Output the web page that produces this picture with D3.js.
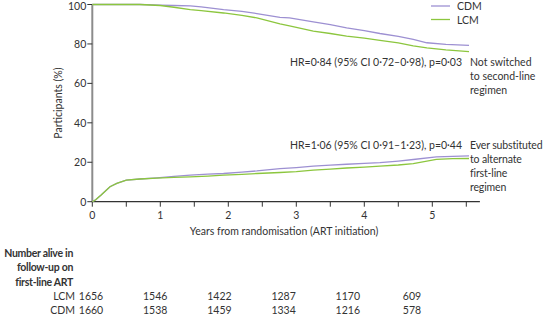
<!DOCTYPE html>
<html>
<head>
<meta charset="utf-8">
<script src="https://cdn.jsdelivr.net/npm/d3@7"></script>
<style>
  body { margin: 0; background: #fff; }
  text { font-family: Lato, "Open Sans", sans-serif; fill: #333; font-size: 10.5px; }
</style>
</head>
<body>
<div id="chart"></div>
<script>
// chart data
var upperYears = [0, 0.5, 0.7, 1.0, 1.2, 1.44, 1.6, 1.93, 2.2, 2.42, 2.76, 2.9, 3.25, 3.5, 3.74, 4.0, 4.23, 4.5, 4.72, 4.92, 5.2, 5.54];
var cdmNotSwitched = [100, 100, 100, 99.7, 99.5, 99.3, 98.8, 97.4, 96.5, 95.4, 93.5, 93.2, 91.2, 89.8, 88.2, 86.8, 85.3, 83.8, 82.3, 80.6, 79.8, 79.3];
var lcmNotSwitched = [100, 100, 100, 99.5, 98.6, 97.4, 96.9, 95.7, 94.5, 93.2, 90.2, 89.2, 86.5, 85.3, 84, 82.9, 81.8, 80.5, 79, 78, 77, 76.1];

var lowerYears = [0, 0.05, 0.13, 0.26, 0.36, 0.5, 0.7, 0.95, 1.2, 1.44, 1.7, 1.93, 2.2, 2.42, 2.76, 3.0, 3.25, 3.5, 3.74, 4.0, 4.23, 4.5, 4.72, 5.06, 5.3, 5.54];
var cdmSubstituted = [0, 1, 3.4, 7.6, 9.3, 10.9, 11.5, 12.1, 12.8, 13.5, 14, 14.3, 15, 15.6, 16.8, 17.3, 18, 18.5, 19, 19.4, 19.8, 20.6, 21.4, 22.7, 23, 23.2];
var lcmSubstituted = [0, 1, 3.4, 7.6, 9.3, 10.9, 11.5, 12.0, 12.3, 12.6, 13, 13.5, 13.9, 14.3, 14.8, 15.2, 16, 16.5, 17.1, 17.5, 18, 18.6, 19.3, 21.5, 21.8, 21.9];

var xTicks = [0, 1, 2, 3, 4, 5];
var xMinorTicks = [0.5, 1.5, 2.5, 3.5, 4.5, 5.5];
var yTicks = [0, 20, 40, 60, 80, 100];

var tableYears = [0, 1, 2, 3, 4, 5];
var lcmAtRisk = [1656, 1546, 1422, 1287, 1170, 609];
var cdmAtRisk = [1660, 1538, 1459, 1334, 1216, 578];

var notSwitchedLabel = ["Not switched", "to second-line", "regimen"];
var substitutedLabel = ["Ever substituted", "to alternate", "first-line", "regimen"];
var tableTitle = ["Number alive in", "follow-up on", "first-line ART"];

var cdmColor = "#9d90d2";
var lcmColor = "#8cc63e";

var svgWidth = 545;
var svgHeight = 315;

var svg = d3.select("#chart")
  .append("svg")
  .attr("width", svgWidth)
  .attr("height", svgHeight);

var x = d3.scaleLinear().domain([0, 5]).range([92.3, 432.3]);
var y = d3.scaleLinear().domain([0, 100]).range([201.7, 4.5]);

// axes
svg.append("line")
  .attr("x1", x(0)).attr("x2", x(5.7))
  .attr("y1", y(0)).attr("y2", y(0))
  .attr("stroke", "#333").attr("stroke-width", 1.2);

svg.append("line")
  .attr("x1", x(0)).attr("x2", x(0))
  .attr("y1", y(0) + 0.5).attr("y2", y(100))
  .attr("stroke", "#8c8c8c").attr("stroke-width", 2);

svg.selectAll(".xtick")
  .data(xTicks.concat(xMinorTicks))
  .enter().append("line")
  .attr("x1", d => x(d)).attr("x2", d => x(d))
  .attr("y1", y(0)).attr("y2", y(0) + 5)
  .attr("stroke", "#333").attr("stroke-width", 1);

svg.selectAll(".xlab")
  .data(xTicks)
  .enter().append("text")
  .attr("x", d => x(d))
  .attr("y", y(0) + 17)
  .attr("text-anchor", "middle")
  .text(d => d);

svg.selectAll(".ytick")
  .data(yTicks)
  .enter().append("line")
  .attr("x1", x(0) - 5).attr("x2", x(0))
  .attr("y1", d => y(d)).attr("y2", d => y(d))
  .attr("stroke", "#333").attr("stroke-width", 1);

// keep the top label inside the window
svg.selectAll(".ylab")
  .data(yTicks)
  .enter().append("text")
  .attr("x", x(0) - 6)
  .attr("y", d => Math.max(y(d) + 3.8, 9.5))
  .attr("text-anchor", "end")
  .text(d => d);

svg.append("text")
  .attr("transform", `translate(62, ${y(50)}) rotate(-90)`)
  .attr("text-anchor", "middle")
  .text("Participants (%)");

svg.append("text")
  .attr("x", 284)
  .attr("y", 235)
  .attr("text-anchor", "middle")
  .text("Years from randomisation (ART initiation)");

// curves
var line = d3.line()
  .x(d => x(d[0]))
  .y(d => y(d[1]));

function drawCurve(years, values, color) {
  svg.append("path")
    .datum(years.map((t, i) => [t, values[i]]))
    .attr("d", line)
    .attr("fill", "none")
    .attr("stroke", color)
    .attr("stroke-width", 1.3);
}

drawCurve(upperYears, cdmNotSwitched, cdmColor);
drawCurve(upperYears, lcmNotSwitched, lcmColor);
drawCurve(lowerYears, cdmSubstituted, cdmColor);
drawCurve(lowerYears, lcmSubstituted, lcmColor);

// legend
var legend = [["CDM", cdmColor], ["LCM", lcmColor]];
legend.forEach(function(d, i) {
  svg.append("line")
    .attr("x1", 431).attr("x2", 450)
    .attr("y1", 6 + i * 13.5).attr("y2", 6 + i * 13.5)
    .attr("stroke", d[1]).attr("stroke-width", 1.3);
  svg.append("text")
    .attr("x", 457)
    .attr("y", 10 + i * 13.5)
    .text(d[0]);
});

// annotations
svg.append("text")
  .attr("x", 462).attr("y", 66)
  .attr("text-anchor", "end")
  .text("HR=0·84 (95% CI 0·72–0·98), p=0·03");

svg.selectAll(".ns")
  .data(notSwitchedLabel)
  .enter().append("text")
  .attr("x", 470)
  .attr("y", (d, i) => 66 + i * 14)
  .text(d => d);

svg.append("text")
  .attr("x", 462).attr("y", 149)
  .attr("text-anchor", "end")
  .text("HR=1·06 (95% CI 0·91–1·23), p=0·44");

svg.selectAll(".sub")
  .data(substitutedLabel)
  .enter().append("text")
  .attr("x", 470)
  .attr("y", (d, i) => 149 + i * 14)
  .style("letter-spacing", "-0.15px")
  .text(d => d);

// number at risk table
var tx = d3.scaleLinear().domain([0, 5]).range([91, 412]);

svg.selectAll(".ttl")
  .data(tableTitle)
  .enter().append("text")
  .attr("x", 73)
  .attr("y", (d, i) => 257 + i * 14.3)
  .attr("text-anchor", "end")
  .style("font-weight", "bold")
  .style("letter-spacing", "-0.3px")
  .text(d => d);

[["LCM", lcmAtRisk], ["CDM", cdmAtRisk]].forEach(function(row, r) {
  var ry = 300 + r * 14.3;
  svg.append("text")
    .attr("x", 75).attr("y", ry)
    .attr("text-anchor", "end")
    .text(row[0]);
  svg.selectAll(".row" + r)
    .data(row[1])
    .enter().append("text")
    .attr("x", (d, i) => tx(tableYears[i]))
    .attr("y", ry)
    .attr("text-anchor", "middle")
    .text(d => d);
});
</script>
</body>
</html>
